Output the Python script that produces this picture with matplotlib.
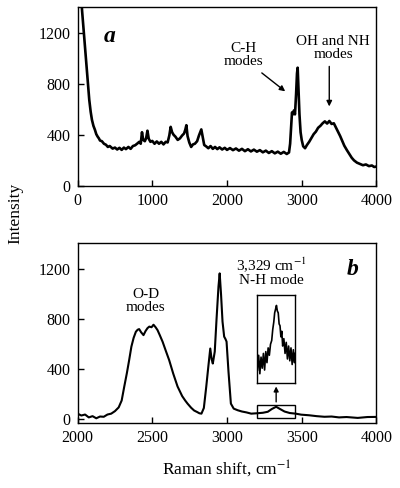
import matplotlib
matplotlib.use("Agg")
import matplotlib.pyplot as plt
from matplotlib.patches import Rectangle

# ---------------- data ----------------
a_shift = [45, 60, 84, 100, 120, 140, 156, 175, 192, 212, 232, 250, 268, 285, 300, 325, 353, 380, 405, 430,
           469, 500, 530, 560, 590, 620, 647, 680, 710, 740, 770, 800, 825, 845, 862, 878, 900, 918, 935, 952,
           975, 1000, 1030, 1060, 1090, 1120, 1150, 1180, 1205, 1228, 1246, 1265, 1285, 1310, 1340, 1370, 1400,
           1425, 1442, 1456, 1472, 1495, 1520, 1545, 1570, 1600, 1625, 1642, 1656, 1672, 1695, 1720, 1750, 1780,
           1810, 1840, 1870, 1900, 1935, 1970, 2000, 2040, 2080, 2120, 2160, 2200, 2240, 2280, 2320, 2360, 2400,
           2440, 2480, 2520, 2560, 2600, 2640, 2680, 2720, 2760, 2800, 2830, 2845, 2858, 2870, 2882, 2895, 2910,
           2925, 2937, 2946, 2957, 2970, 2985, 3000, 3020, 3045, 3070, 3100, 3130, 3160, 3190, 3220, 3250, 3280,
           3310, 3340, 3370, 3400, 3430, 3460, 3490, 3515, 3540, 3570, 3605, 3640, 3670, 3700, 3740, 3780, 3820,
           3860, 3900, 3940, 3970, 4000]
a_intensity = [1500, 1370, 1199, 1080, 935, 790, 674, 580, 517, 470, 439, 405, 386, 372, 355, 350, 330, 322, 305, 312,
               292, 300, 285, 298, 282, 300, 288, 305, 290, 312, 318, 332, 345, 330, 420, 360, 350, 375, 432, 370,
               345, 352, 330, 348, 330, 345, 325, 345, 340, 395, 462, 420, 400, 385, 360, 372, 395,
               410, 440, 475, 390, 340, 305, 325, 330, 350, 395, 420, 442, 390, 320, 310, 295, 312,
               290, 305, 288, 302, 285, 298, 282, 296, 280, 293, 276, 290, 272, 287, 270, 284, 268,
               280, 263, 276, 258, 272, 255, 268, 252, 266, 250, 262, 330, 460, 575, 560, 590, 560,
               720, 880, 925, 760, 560, 420, 360, 310, 295, 320, 345, 375, 405, 425, 455, 470, 490,
               505, 488, 508, 485, 490, 455, 420, 390, 355, 315, 280, 248, 220, 200, 182, 172, 162,
               168, 155, 160, 148, 152]

b_shift = [2000, 2025, 2050, 2075, 2100, 2125, 2150, 2175, 2200, 2225, 2250, 2275, 2295, 2312, 2330, 2345, 2360,
           2375, 2390, 2402, 2412, 2425, 2441, 2455, 2468, 2480, 2495, 2508, 2522, 2535, 2550, 2569, 2590, 2613,
           2640, 2669, 2700, 2720, 2736, 2760, 2780, 2800, 2815, 2829, 2845, 2861, 2875, 2888, 2897, 2905, 2918,
           2930, 2943, 2951, 2960, 2970, 2981, 2990, 2997, 3010, 3026, 3045, 3072, 3100, 3130, 3162, 3200, 3240,
           3273, 3300, 3329, 3355, 3385, 3420, 3460, 3496, 3550, 3600, 3652, 3700, 3750, 3800, 3875, 3940, 4000]
b_intensity = [45, 30, 38, 15, 25, 8, 22, 20, 38, 45, 65, 95, 150, 259, 370, 472, 580,
               650, 699, 715, 720, 695, 672, 705, 728, 740, 735, 755, 735, 712, 672, 619, 548, 472,
               365, 262, 185, 150, 125, 92, 70, 58, 48, 45, 90, 259, 420, 565, 480, 445, 540,
               800, 1060, 1165, 1000, 780, 660, 640, 620, 380, 125, 85, 72, 62, 55, 45, 48, 52,
               60, 82, 100, 82, 62, 50, 45, 37, 32, 25, 20, 22, 15, 18, 11, 18, 19]

inset_shift = [3202, 3210, 3218, 3226, 3234, 3242, 3250, 3258, 3266, 3274, 3282, 3290, 3298, 3305, 3312, 3318,
               3324, 3330, 3336, 3342, 3348, 3354, 3360, 3366, 3372, 3380, 3388, 3396, 3404, 3412, 3420, 3428,
               3436, 3444, 3452, 3456]
inset_intensity = [34, 50, 30, 48, 36, 52, 34, 54, 42, 58, 50, 62, 66, 78, 86, 96,
                   100, 104, 98, 96, 84, 82, 70, 76, 60, 68, 52, 64, 46, 60, 44, 58,
                   40, 56, 42, 52]

a_xticks = [0, 1000, 2000, 3000, 4000]
b_xticks = [2000, 2500, 3000, 3500, 4000]
yticks = [0, 400, 800, 1200]

# ---------------- style ----------------
plt.rcParams['font.family'] = ['Liberation Serif', 'DejaVu Serif']
plt.rcParams['mathtext.fontset'] = 'stix'
plt.rcParams['axes.linewidth'] = 1.0

fig = plt.figure(figsize=(4.0, 4.88), dpi=100)
L, R = 0.194, 0.941
ax_a = fig.add_axes([L, 0.619, R - L, 0.9857 - 0.619])
ax_b = fig.add_axes([L, 0.1326, R - L, 0.5014 - 0.1326])

for ax in (ax_a, ax_b):
    ax.tick_params(direction='in', length=4, width=1, labelsize=11.5, pad=5)
    ax.set_yticks(yticks)

# panel a
ax_a.plot(a_shift, a_intensity, color='black', lw=1.9)
ax_a.set_xlim(0, 4000)
ax_a.set_ylim(0, 1400)
ax_a.set_xticks(a_xticks)
ax_a.text(433, 1168, 'a', fontsize=17, fontweight='bold', fontstyle='italic', ha='center', va='center')
ax_a.text(2216, 1023, 'C-H\nmodes', fontsize=11, ha='center', va='center', linespacing=1.0)
ax_a.text(3424, 1082, 'OH and NH\nmodes', fontsize=11, ha='center', va='center', linespacing=1.0)
ax_a.annotate('', xy=(2779, 740), xytext=(2466, 884),
              arrowprops=dict(arrowstyle='-|>', color='black', lw=1, mutation_scale=8, shrinkA=0, shrinkB=0))
ax_a.annotate('', xy=(3369, 622), xytext=(3369, 935),
              arrowprops=dict(arrowstyle='-|>', color='black', lw=1, mutation_scale=8, shrinkA=0, shrinkB=0))

# panel b
ax_b.plot(b_shift, b_intensity, color='black', lw=1.5)
ax_b.set_xlim(2000, 4000)
ax_b.set_ylim(-32, 1405)
ax_b.set_xticks(b_xticks)
ax_b.text(3839, 1192, 'b', fontsize=17, fontweight='bold', fontstyle='italic', ha='center', va='center')
ax_b.text(2455, 948, 'O-D\nmodes', fontsize=11, ha='center', va='center', linespacing=1.0)
ax_b.text(3298, 1180, '3,329 cm$^{-1}$\nN-H mode', fontsize=11, ha='center', va='center', linespacing=1.0)
ax_b.add_patch(Rectangle((3204, 10), 254, 102, fill=False, edgecolor='black', lw=1))
ax_b.annotate('', xy=(3329, 262), xytext=(3329, 139),
              arrowprops=dict(arrowstyle='-|>', color='black', lw=1, mutation_scale=7, shrinkA=0, shrinkB=0))

ins = ax_b.inset_axes([3202, 290, 256, 700], transform=ax_b.transData)
ins.plot(inset_shift, inset_intensity, color='black', lw=1.2)
ins.set_xlim(3200, 3458)
ins.set_ylim(20, 115)
ins.set_xticks([])
ins.set_yticks([])
for s in ins.spines.values():
    s.set_linewidth(1)

fig.text(0.038, 1 - 213 / 488, 'Intensity', rotation=90, ha='center', va='center', fontsize=12.5)
fig.text(227 / 400, 1 - 469 / 488, 'Raman shift, cm$^{-1}$', ha='center', va='center', fontsize=12.5)

fig.savefig('out.png', dpi=100)
